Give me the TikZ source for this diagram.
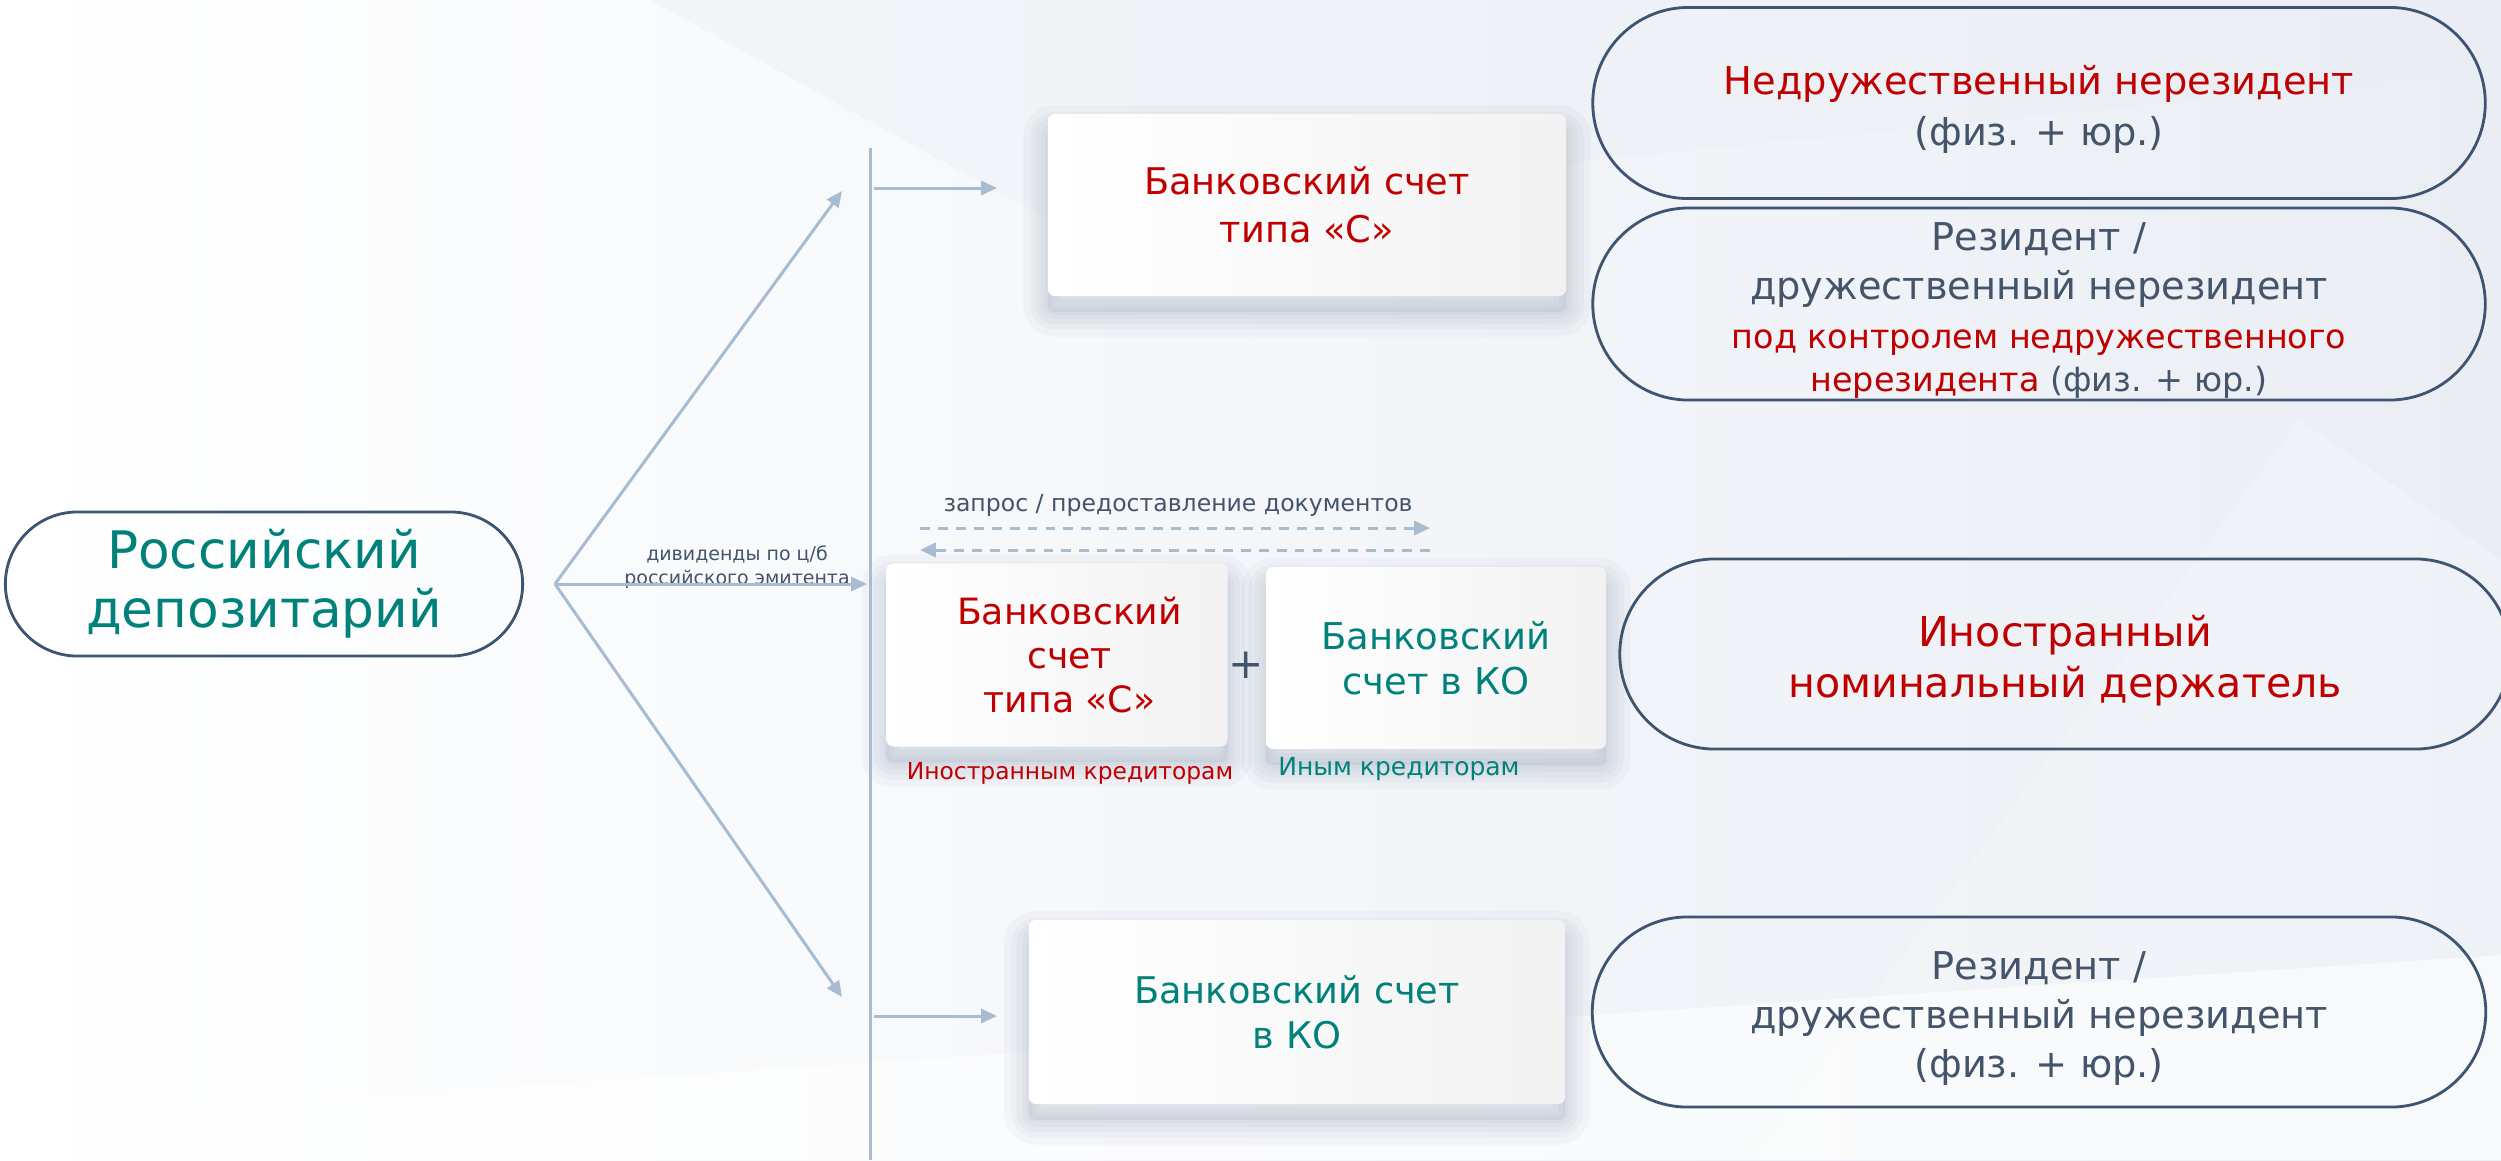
\documentclass[tikz,border=0pt]{standalone}
\usepackage{fontspec}
\setmainfont{DejaVu Sans}
\usetikzlibrary{arrows.meta, shapes.misc}

\definecolor{tealtxt}{HTML}{00827B}
\definecolor{redtxt}{HTML}{C00000}
\definecolor{slate}{HTML}{44546A}
\definecolor{pillline}{HTML}{3F5470}
\definecolor{arrowc}{HTML}{A7BCD1}
\definecolor{bgright}{HTML}{EAEEF4}
\definecolor{shadowc}{HTML}{7F90A8}

\newcommand{\lift}[1]{\rule{0pt}{#1}}

\tikzset{
  pill/.style={rounded rectangle, draw=pillline, line width=0.8pt, inner sep=0pt, align=center, text=slate},
  shadowring/.style={preaction={draw=shadowc, line width=#1, draw opacity=0.06,
    transform canvas={yshift=-4.5pt}}},
  acct/.style={rectangle, rounded corners=2pt, inner sep=0pt, align=center,
    shadowring=14pt, shadowring=10pt, shadowring=7pt, shadowring=4pt, shadowring=1.5pt,
    preaction={fill=shadowc, fill opacity=0.12, transform canvas={yshift=-4.5pt}},
    left color=white, right color=black!5},
  flow/.style={draw=arrowc, line width=0.85pt, -{Triangle[length=4.5pt, width=4pt]}},
  docflow/.style={flow, dash pattern=on 2.8pt off 2.3pt},
  note/.style={inner sep=0pt, align=center}
}

\begin{document}
\begin{tikzpicture}[x=0.01cm, y=-0.01cm]
  % Background
  \useasboundingbox (0,0) rectangle (2501,1160);
  \fill [left color=white, right color=bgright] (0,0) rectangle (2501,1160);
  \fill [white, opacity=0.6] (0,1160) -- (0,1120) -- (2501,955) -- (2501,1160) -- cycle;
  \fill [bgright, opacity=0.4] (650,0) -- (2501,0) -- (2501,70) -- (1040,215) -- cycle;
  \fill [white, opacity=0.2] (1750,1160) -- (2300,420) -- (2501,560) -- (2501,1160) -- cycle;

  % Depositary
  \node [pill, text=tealtxt, font=\fontsize{14.7}{16.8}\selectfont,
    minimum width=5.17cm, minimum height=1.44cm] (dep) at (264,584) {Российский\\депозитарий};

  % Accounts
  \node [acct, text=redtxt, font=\fontsize{10.45}{13.7}\selectfont,
    minimum width=5.18cm, minimum height=1.82cm] (acctC) at (1307,205) {Банковский счет\\типа «С»};
  \node [acct, text=redtxt, font=\fontsize{10.3}{12.5}\selectfont,
    minimum width=3.41cm, minimum height=1.83cm] (midC) at (1057,655)
    {\hspace*{0.25cm}Банковский\\\hspace*{0.25cm}счет\\\hspace*{0.25cm}типа «С»};
  \node [acct, text=tealtxt, font=\fontsize{10.5}{12.8}\selectfont,
    minimum width=3.40cm, minimum height=1.82cm] (midKO) at (1436,658) {Банковский\\счет в КО};
  \node [acct, text=tealtxt, font=\fontsize{10.45}{12.8}\selectfont,
    minimum width=5.36cm, minimum height=1.84cm] (acctKO) at (1297,1012) {Банковский счет\\в КО};

  % Holders
  \node [pill, font=\fontsize{10.9}{14.5}\selectfont,
    minimum width=8.92cm, minimum height=1.91cm] (unfr) at (2039,103)
    {\lift{12pt}\textcolor{redtxt}{Недружественный нерезидент}\\(физ. + юр.)};
  \node [pill, font=\fontsize{10.9}{14}\selectfont,
    minimum width=8.92cm, minimum height=1.92cm] (ctrl) at (2039,304)
    {\lift{11.5pt}Резидент /\\дружественный нерезидент\\
     {\fontsize{9.5}{11.4}\selectfont\color{redtxt}под контролем недружественного}\\[-2pt]
     {\fontsize{9.5}{11.4}\selectfont\textcolor{redtxt}{нерезидента} (физ. + юр.)}};
  \node [pill, text=redtxt, font=\fontsize{11.7}{14.5}\selectfont,
    minimum width=8.90cm, minimum height=1.90cm] (nomin) at (2065,654)
    {\lift{12.5pt}Иностранный\\номинальный держатель};
  \node [pill, font=\fontsize{10.9}{14}\selectfont,
    minimum width=8.93cm, minimum height=1.90cm] (resid) at (2039,1012)
    {\lift{11.5pt}Резидент /\\дружественный нерезидент\\(физ. + юр.)};

  % Labels
  \node [note, text=slate, font=\fontsize{5.4}{6.8}\selectfont] (divlbl) at (737,567)
    {дивиденды по ц/б\\российского эмитента};
  \node [note, text=slate, font=\fontsize{6.7}{7.5}\selectfont] (reqlbl) at (1178,505)
    {запрос / предоставление документов};
  \node [note, text=slate, font=\fontsize{12}{14}\selectfont] (plus) at (1246,665) {+};
  \node [note, text=redtxt, font=\fontsize{6.65}{7.5}\selectfont] (credF) at (1070,773)
    {Иностранным кредиторам};
  \node [note, text=tealtxt, font=\fontsize{7.1}{7.5}\selectfont] (credO) at (1399,769)
    {Иным кредиторам};

  % Branches
  \coordinate (fan) at (555,584);
  \coordinate (vtop) at (870,148);
  \coordinate (vbot) at (870,1160);
  \coordinate (up) at (842,191);
  \coordinate (mid) at (867,584);
  \coordinate (down) at (842,997);
  \draw [draw=arrowc, line width=0.85pt] (vtop) -- (vbot);
  \draw [flow] (fan) -- (up);
  \draw [flow] (fan) -- (mid);
  \draw [flow] (fan) -- (down);

  \coordinate (topA) at (874,188);
  \coordinate (topB) at (997,188);
  \coordinate (botA) at (874,1016);
  \coordinate (botB) at (997,1016);
  \draw [flow] (topA) -- (topB);
  \draw [flow] (botA) -- (botB);

  % Documents
  \coordinate (reqA) at (920,528);
  \coordinate (reqB) at (1430,528);
  \coordinate (docA) at (1430,550);
  \coordinate (docB) at (920,550);
  \draw [docflow] (reqA) -- (reqB);
  \draw [docflow] (docA) -- (docB);
\end{tikzpicture}
\end{document}
